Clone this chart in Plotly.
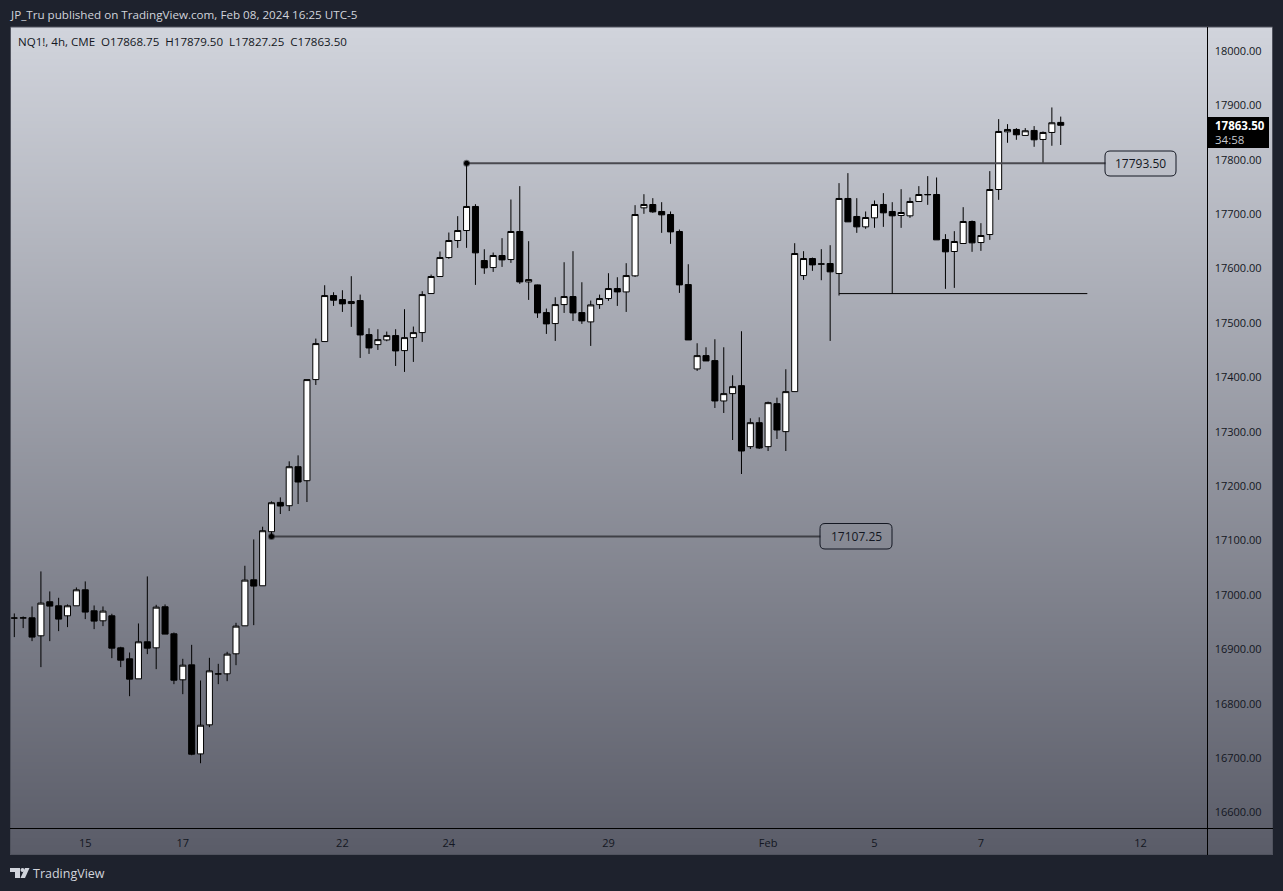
import plotly.graph_objects as go

W, H = 1283, 891

bar_index = list(range(119))

opens = [
 16957.3,16957.3,16957.9,16924.8,16987.4,16980,16961.6,16980,17009.4,16970.8,
 16952.4,16961.6,16902.7,16882.5,16845.7,16913.8,16902.7,16978.2,16928.5,16843.9,
 16871.4,16707.7,16761.1,16854.3,16854.9,16891.7,16943.2,17027.8,17016.8,17116.2,
 17170.1,17164,17235.8,17210,17395.9,17465.8,17550.4,17543,17535.7,17541.2,
 17478.6,17460.2,17468.8,17476.8,17449.2,17473.1,17482.3,17554.1,17585.4,17620.3,
 17651.6,17670,17714.2,17614.8,17601.9,17624,17616.6,17668.2,17575.5,17570,
 17519.1,17498.9,17533.8,17548.6,17519.1,17502,17533.8,17544.9,17563.3,17557.1,
 17586.6,17711.7,17717.8,17705,17699.4,17668.2,17570.6,17415.5,17440,17430.8,
 17356.6,17370.1,17384.8,17272.6,17316.7,17272.6,17351.7,17300.2,17373.8,17587.2,
 17618.5,17608,17609.3,17590.9,17728.9,17695.8,17676.7,17693.3,17717.8,17705,
 17697.6,17697,17723.4,17735.6,17736.2,17653.4,17631.4,17646.1,17686.6,17647.9,
 17662.6,17745.4,17851.5,17855.8,17844.8,17854,17837.4,17850.3,17868.75]
closes = [
 16957.5,16957.9,16922.4,16984.9,16979.4,16955.5,16980,17009.4,16968.4,16951.8,
 16970.2,16902.1,16880,16845.1,16913.8,16902.1,16977.5,16927.9,16843.2,16870.8,
 16707.1,16760.4,16860.4,16854.9,16891.1,16942.6,17027.2,17016.2,17118,17169.5,
 17163.4,17235.7,17207.6,17395.9,17462.1,17550.4,17541.8,17535.1,17539.4,17478,
 17454.1,17469.4,17476.8,17448.6,17473.1,17482.3,17552.2,17585.4,17620.3,17651.6,
 17670,17714.2,17628.9,17601.3,17624,17616,17668.2,17575.5,17579.8,17518.5,
 17498.3,17533.8,17548.6,17518.5,17503.8,17533.2,17544.9,17563.3,17557.1,17587.2,
 17699.4,17717.8,17704.3,17698.8,17667.5,17570,17468.8,17440,17430.2,17356.6,
 17370.1,17383,17264.6,17316.7,17270.1,17353.5,17303.2,17373.8,17627.7,17618.5,
 17606.8,17608.7,17594,17728.9,17685.9,17676.7,17693.9,17717.8,17702.5,17697,
 17703.1,17723.4,17736.2,17736.2,17652.8,17630.8,17649.8,17686.6,17647.3,17660.8,
 17745.4,17852.1,17855.8,17846,17853.4,17836.8,17850.3,17868.1,17863.5]
highs = [
 16965.9,16960.4,16978.8,17043.2,17006.4,16994.7,16982.5,17013.7,17024.8,16980.6,
 16978.8,16965.3,16904.6,16894.1,16947.5,17034,16981.8,16982.5,16930.9,16882.5,
 16908.2,16842.6,16884.3,16873.3,16895.4,16948.7,17053.6,17102,17125.4,17172,
 17179.3,17245.6,17256.6,17395.9,17471.3,17569.4,17556.5,17560.2,17586,17552.2,
 17490.3,17488.5,17484.2,17488.5,17525.3,17493.4,17558.4,17589,17631.4,17666.3,
 17696.4,17793.5,17718.4,17635.6,17629.5,17655.9,17727,17751.6,17650.4,17570.6,
 17526.5,17547.3,17611.7,17632,17574.9,17541.2,17552.2,17591.5,17584.1,17609.9,
 17716.6,17736.8,17729.5,17722.1,17705,17671.8,17608,17462.7,17455.3,17470.1,
 17455.3,17403.8,17484.8,17324.7,17326.5,17355.4,17362.7,17414.9,17646.7,17632,
 17620.3,17635.7,17643,17757.1,17775.5,17729.5,17705,17725.2,17738.7,17722.1,
 17746,17730.7,17751.6,17770,17767.5,17663.3,17668.8,17712.9,17688.4,17683.5,
 17779.2,17874.8,17865.6,17858.3,17858.3,17862,17852.1,17896.3,17879.5]
lows = [
 16922.4,16938.9,16915,16867.2,16915,16933.4,16940.8,16980,16955.5,16937.1,
 16942.6,16883.7,16867.2,16813.8,16845.7,16891.1,16863.5,16927.9,16835.9,16817.5,
 16705.2,16690.5,16756.8,16835.9,16841.4,16870.8,16943.2,16944.4,17016.8,17107.25,
 17148.7,17154.2,17167.1,17170.8,17386,17465.8,17531.4,17520.3,17492.8,17435.7,
 17443.1,17450.4,17466.4,17421,17410,17428.4,17465.2,17554.1,17585.4,17617.9,
 17638.1,17638.1,17570,17590.3,17593.9,17603.1,17610.5,17571.9,17542.4,17509.3,
 17479.9,17467,17518.5,17503.8,17498.3,17457.8,17525.9,17540.6,17531.4,17520.3,
 17584.7,17700.7,17702.5,17665.7,17645.5,17555.3,17468.8,17411.8,17430.2,17343.7,
 17334.5,17284.8,17222.3,17268.3,17268.3,17264.6,17286.7,17264.6,17373.8,17579.2,
 17595.8,17578.6,17467,17550.4,17685.9,17665.7,17673.1,17674.9,17676.7,17554.1,
 17674.9,17693.3,17723.4,17717.2,17652.8,17562.7,17564.5,17646.1,17630.8,17632.6,
 17652.8,17726.4,17831.3,17836.8,17844.8,17823.9,17793.3,17825.8,17827.25]

price_ticks = [18000,17900,17800,17700,17600,17500,17400,17300,17200,17100,
               17000,16900,16800,16700,16600]
price_tick_labels = [f"{p:.2f}" for p in price_ticks]
date_tick_index = [8, 19, 37, 49, 67, 85, 97, 109, 127]
date_tick_labels = ["15", "17", "22", "24", "29", "Feb", "5", "7", "12"]

level_high = 17793.5
level_high_span = [51, 123.05]
level_low = 17107.25
level_low_span = [29, 90.9]
support = 17554.0
support_span = [93, 121]

DARK = "#1e222d"
INK = "#131722"
FONT = "Open Sans"

def px(x): return x / W
def py(y): return 1 - y / H

def rounded(x0, y0, x1, y1, r):
    a, b, c, d = px(x0), px(x1), py(y0), py(y1)
    rx, ry = r / W, r / H
    return (f"M{a+rx},{c} L{b-rx},{c} Q{b},{c} {b},{c-ry} L{b},{d+ry} Q{b},{d} {b-rx},{d} "
            f"L{a+rx},{d} Q{a},{d} {a},{d+ry} L{a},{c-ry} Q{a},{c} {a+rx},{c} Z")

fig = go.Figure()

# background gradient on its own full-card axes (drawn under the price pane)
fig.add_trace(go.Heatmap(
    x=[0, 1], y=[0, 1], z=[[0, 0], [1, 1]], zsmooth="best", showscale=False, hoverinfo="skip",
    colorscale=[[0, "#5a5c68"], [1, "#d1d4dc"]], xaxis="x", yaxis="y"))

line_kw = dict(mode="lines", xaxis="x2", yaxis="y2", hoverinfo="skip", showlegend=False)
fig.add_trace(go.Scatter(x=level_high_span, y=[level_high, level_high],
                         line=dict(color="#4a4a4f", width=2), **line_kw))
fig.add_trace(go.Scatter(x=level_low_span, y=[level_low, level_low],
                         line=dict(color="#3f4046", width=2), **line_kw))
fig.add_trace(go.Scatter(x=support_span, y=[support, support],
                         line=dict(color="#000000", width=1), **line_kw))

fig.add_trace(go.Candlestick(
    x=bar_index, open=opens, high=highs, low=lows, close=closes,
    xaxis="x2", yaxis="y2", whiskerwidth=0, hoverinfo="skip", showlegend=False,
    increasing=dict(line=dict(color="#000000", width=1), fillcolor="#ffffff"),
    decreasing=dict(line=dict(color="#000000", width=1), fillcolor="#000000")))

fig.add_trace(go.Scatter(
    x=[level_high_span[0], level_low_span[0]], y=[level_high, level_low], mode="markers",
    marker=dict(color="#000000", size=5, line=dict(color="rgba(0,0,0,0.45)", width=2)),
    xaxis="x2", yaxis="y2", hoverinfo="skip", showlegend=False))

shapes = [
    dict(type="rect", xref="paper", yref="paper", x0=px(10.5), x1=px(1272.5), y0=py(854.5), y1=py(27),
         line=dict(color="#50535e", width=1), fillcolor="rgba(0,0,0,0)", layer="above"),
    dict(type="line", xref="paper", yref="paper", x0=px(1207.5), x1=px(1207.5), y0=py(27), y1=py(855),
         line=dict(color="#000000", width=1), layer="above"),
    dict(type="line", xref="paper", yref="paper", x0=px(10), x1=px(1273), y0=py(828.5), y1=py(828.5),
         line=dict(color="#000000", width=1), layer="above"),
    dict(type="path", xref="paper", yref="paper", path=rounded(1105, 151, 1176, 176, 5),
         line=dict(color=INK, width=1), fillcolor="rgba(0,0,0,0)", layer="above"),
    dict(type="path", xref="paper", yref="paper", path=rounded(820, 523.5, 892, 549, 5),
         line=dict(color=INK, width=1), fillcolor="rgba(0,0,0,0)", layer="above"),
    dict(type="rect", xref="paper", yref="paper", x0=px(1208), x1=px(1269), y0=py(148), y1=py(117),
         line=dict(width=0), fillcolor="#000000", layer="above"),
    # TradingView logo
    dict(type="path", xref="paper", yref="paper", layer="above", line=dict(width=0), fillcolor="#d1d4dc",
         path=f"M{px(10)},{py(868)} L{px(20)},{py(868)} L{px(20)},{py(878)} L{px(15)},{py(878)} "
              f"L{px(15)},{py(872)} L{px(10)},{py(872)} Z"),
    dict(type="circle", xref="paper", yref="paper", layer="above", line=dict(width=0), fillcolor="#d1d4dc",
         x0=px(20.5), x1=px(24.5), y0=py(872), y1=py(868)),
    dict(type="path", xref="paper", yref="paper", layer="above", line=dict(width=0), fillcolor="#d1d4dc",
         path=f"M{px(25)},{py(868)} L{px(29.5)},{py(868)} L{px(25)},{py(878)} L{px(20.5)},{py(878)} Z"),
]

def note(x, y, text, color=INK, size=11, anchor="left"):
    return dict(xref="paper", yref="paper", x=px(x), y=py(y), text=text, showarrow=False,
                xanchor=anchor, yanchor="middle", align=anchor,
                font=dict(family=FONT, size=size, color=color))

annotations = [
    note(8, 14, "JP_Tru published on TradingView.com, Feb 08, 2024 16:25 UTC-5", "#d1d4dc", 11.65),
    note(16, 41, "NQ1!, 4h, CME&#160;&#160;O17868.75&#160;&#160;H17879.50&#160;&#160;L17827.25&#160;&#160;C17863.50", INK, 11.55),
    note(1140.5, 163.5, "17793.50", INK, 12, "center"),
    note(856, 536.5, "17107.25", INK, 12, "center"),
    note(1213, 125, "<b>17863.50</b>", "#ffffff", 11.5),
    note(1213, 139, "34:58", "#c8c9cf", 11.5),
    note(31, 873, "TradingView", "#d1d4dc", 12.5),
]

fig.update_layout(
    width=W, height=H, autosize=False, margin=dict(l=0, r=0, t=0, b=0),
    paper_bgcolor=DARK, plot_bgcolor="rgba(0,0,0,0)", showlegend=False,
    shapes=shapes, annotations=annotations, boxgap=0.03,
    font=dict(family=FONT, size=11, color=INK),
    xaxis=dict(domain=[px(10), px(1273)], range=[0, 1], visible=False, fixedrange=True),
    yaxis=dict(domain=[py(855), py(27)], range=[0, 1], visible=False, fixedrange=True),
    xaxis2=dict(domain=[px(10), px(1207.5)], range=[-0.485, 134.55], anchor="y2",
                rangeslider=dict(visible=False), showgrid=False, zeroline=False,
                tickmode="array", tickvals=date_tick_index, ticktext=date_tick_labels,
                ticks="outside", ticklen=4, tickcolor="rgba(0,0,0,0)",
                tickfont=dict(family=FONT, size=11, color=INK), fixedrange=True),
    yaxis2=dict(domain=[py(828.5), py(27)], range=[16570.5, 18044.2], anchor="x2", side="right",
                showgrid=False, zeroline=False, tickmode="array", tickvals=price_ticks,
                ticktext=price_tick_labels, ticks="outside", ticklen=4, tickcolor="rgba(0,0,0,0)",
                tickfont=dict(family=FONT, size=11, color=INK), fixedrange=True),
)

fig.write_html("out.html", config=dict(displayModeBar=False),
               post_script="document.body.style.margin='0';document.body.style.overflow='hidden';")
